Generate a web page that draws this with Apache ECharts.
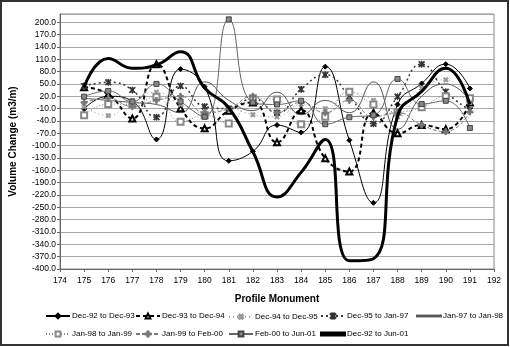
<!DOCTYPE html>
<html><head><meta charset="utf-8">
<script src="https://cdn.jsdelivr.net/npm/echarts@6/dist/echarts.min.js"></script>
<style>html,body{margin:0;padding:0;background:#fff}#c{width:510px;height:347px}</style>
</head><body><div id="c"></div>
<script>
const monuments = [175,176,177,178,179,180,181,182,183,184,185,186,187,188,189,190,191];
const yTicks = {min:-400, max:220, interval:30};
const seriesNames = ['Dec-92 to Dec-93','Dec-93 to Dec-94','Dec-94 to Dec-95','Dec-95 to Jan-97','Jan-97 to Jan-98','Jan-98 to Jan-99','Jan-99 to Feb-00','Feb-00 to Jun-01','Dec-92 to Jun-01'];
const dec92_dec93 = [-11, 20, 8, -85, 86, 43, -137, -114, -50, -68, 92, -87, -239, 0, 51, 98, 39];
const dec93_dec94 = [42, 25, -34, 98, -9, -58, -15, 5, -92, -14, -131, -163, -20, -70, -50, -60, 5];
const dec94_dec95 = [-5, -27, 10, 30, 0, -20, -10, -25, -30, 0, -10, 30, 10, -30, 40, 60, 5];
const dec95_jan97 = [45, 54, 35, -31, 45, -5, -10, 15, -20, 37, 72, 20, -47, 19, 98, 31, -14];
const jan97_jan98 = [15, 10, 5, 0, -20, 55, 10, -15, 30, -25, 10, -20, 55, -60, 20, 50, 10];
const jan98_jan99 = [-26, 1, 0, 19, -42, -26, -46, 15, 12, -48, -30, 31, 0, -18, -7, 20, 15];
const jan99_feb00 = [5, 15, -5, 10, 20, -20, -10, 20, -20, 5, -20, 10, -30, -20, -50, -66, -18];
const feb00_jun01 = [19, 33, 7, 50, 7, -30, 207, 5, 0, 9, -48, -31, -26, 62, 1, 9, -57];
const dec92_jun01 = [42, 112, 88, 96, 128, 40, -8, -115, -225, -165, -85, -380, -375, -28, 32, 88, 0];

const valuesList = [dec92_dec93, dec93_dec94, dec94_dec95, dec95_jan97, jan97_jan98, jan98_jan99, jan99_feb00, feb00_jun01, dec92_jun01];

const PLUS = 'path://M3,0h2v8h-2zM0,3h8v2h-8z';
const ASTER = 'path://M0,1L1,0L8,7L7,8ZM7,0L8,1L1,8L0,7ZM3.5,0h1v8h-1Z';
const styles = [
  {color:'#000', width:1, type:'solid', symbol:'diamond', size:5},
  {color:'#000', width:2, type:[4,3], symbol:'emptyTriangle', size:6},
  {color:'#999', width:1, type:[1,3], symbol:PLUS, size:5, rotate:45},
  {color:'#333', width:1.5, type:[2,3], symbol:ASTER, size:6},
  {color:'#555', width:1, type:'solid', symbol:'none', size:0, icon:'path://M0,0H30V1H0Z'},
  {color:'#888', width:1, type:[1,2], symbol:'emptyRect', size:6},
  {color:'#777', width:1, type:[4,2], symbol:PLUS, size:6},
  {color:'#666', width:1, type:'solid', symbol:'rect', size:5, fill:'#888'},
  {color:'#000', width:3, type:'solid', symbol:'none', size:0, icon:'path://M0,0H8V1H0Z'}
];

const series = seriesNames.map((name,i)=>{
  const s = styles[i];
  return {
    name, type:'line', smooth:0.5, z: i===8?10:3,
    data: monuments.map((m,j)=>[m, valuesList[i][j]]),
    symbol: s.symbol, symbolSize: s.size, symbolRotate: s.rotate||0,
    showSymbol: s.symbol!=='none',
    lineStyle:{color:s.color, width:s.width, type:s.type},
    itemStyle:{color: s.fill || s.color, borderColor: s.fill ? '#444' : s.color, borderWidth:1},
    emphasis:{disabled:true}
  };
});

const legendPos = [[45,312],[135,312],[228,312],[320,312],[416,312],[45,330],[135,330],[228,330],[320,330]];
const legends = seriesNames.map((name,i)=>({
  data:[styles[i].icon ? {name, icon:styles[i].icon} : name],
  left:legendPos[i][0], top:legendPos[i][1], orient:'horizontal',
  itemWidth:24, itemHeight:6, itemGap:2, padding:0,
  textStyle:{fontSize:8, fontFamily:'Liberation Sans', color:'#000', padding:[0,0,0,-3]}
}));

const chart = echarts.init(document.getElementById('c'), null, {renderer:'canvas'});
chart.setOption({
  animation:false,
  backgroundColor:'#fff',
  grid:{left:57, right:16, top:14, bottom:78, show:true, borderColor:'#888', borderWidth:1},
  xAxis:{type:'value', min:174, max:192, interval:1,
    name:'Profile Monument', nameLocation:'middle', nameGap:25,
    nameTextStyle:{fontSize:10, fontWeight:'bold', fontFamily:'Liberation Sans', color:'#000'},
    axisLine:{onZero:false, lineStyle:{color:'#666'}}, axisTick:{show:true, length:3, lineStyle:{color:'#666'}},
    axisLabel:{fontSize:8.5, fontFamily:'Liberation Sans', color:'#000', margin:7},
    splitLine:{show:false}},
  yAxis:{type:'value', min:yTicks.min, max:yTicks.max, interval:yTicks.interval,
    name:'Volume Change (m3/m)', nameLocation:'middle', nameGap:42,
    nameTextStyle:{fontSize:10, fontWeight:'bold', fontFamily:'Liberation Sans', color:'#000'},
    axisLine:{show:true, onZero:false, lineStyle:{color:'#666'}}, axisTick:{show:true, length:3, lineStyle:{color:'#666'}},
    axisLabel:{fontSize:8.5, fontFamily:'Liberation Sans', color:'#000', margin:4, showMaxLabel:false,
      formatter:v=>v.toFixed(1)},
    splitLine:{show:true, lineStyle:{color:'#a8a8a8', width:1}}},
  legend: legends,
  graphic:[{type:'rect', shape:{x:1, y:1, width:507, height:344}, style:{fill:'none', stroke:'#333', lineWidth:2}, silent:true}],
  series
});
</script></body></html>
